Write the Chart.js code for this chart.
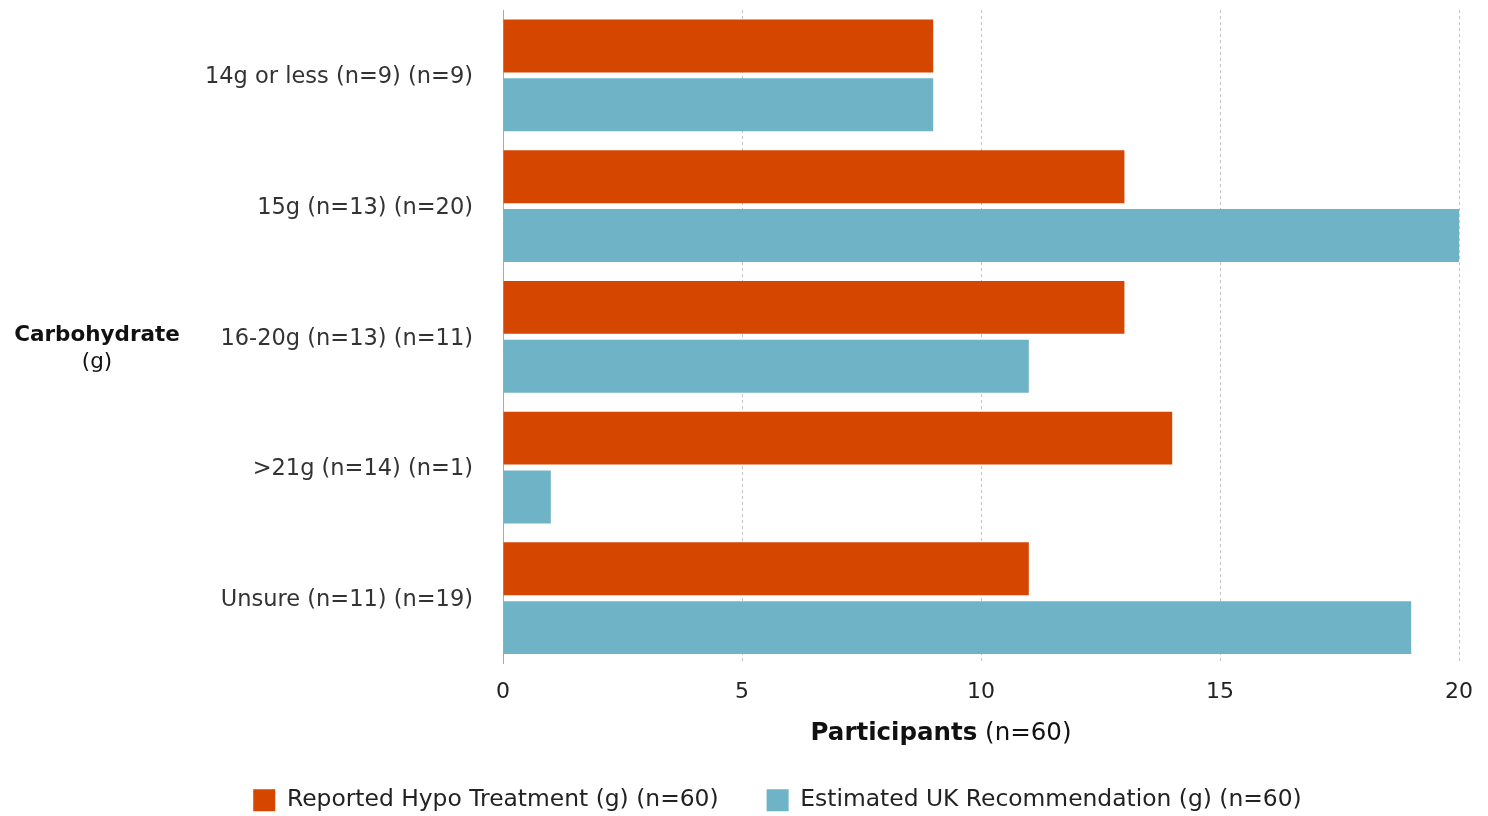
<!DOCTYPE html>
<html>
<head>
<meta charset="utf-8">
<script src="https://cdn.jsdelivr.net/npm/chart.js@4/dist/chart.umd.min.js"></script>
<style>
  html, body { margin: 0; padding: 0; background: #fff; }
  #wrap { width: 1488px; height: 816px; position: relative; }
</style>
</head>
<body>
<div id="wrap"><canvas id="c"></canvas></div>
<script>
// Carbohydrate amount categories
const categories = [
  '14g or less (n=9) (n=9)',
  '15g (n=13) (n=20)',
  '16-20g (n=13) (n=11)',
  '>21g (n=14) (n=1)',
  'Unsure (n=11) (n=19)'
];
// Participant counts per category
const reportedTreatment = [9, 13, 13, 14, 11];
const ukRecommendation = [9, 20, 11, 1, 19];
const xTicks = [0, 5, 10, 15, 20];

const FONT = '"DejaVu Sans", sans-serif';

// Axis titles with mixed bold / regular runs
const titlesPlugin = {
  id: 'titles',
  afterLayout(chart) {
    // nudge the legend row to the right of the canvas centre
    const lg = chart.legend;
    if (lg) { lg.left += 48; lg.right += 48; }
  },
  afterDraw(chart) {
    const ctx = chart.ctx;
    ctx.save();
    ctx.fillStyle = '#111';
    ctx.textBaseline = 'middle';
    // y title
    ctx.textAlign = 'center';
    ctx.font = 'bold 21.5px ' + FONT;
    ctx.fillText('Carbohydrate', 97, 335);
    ctx.font = '21.5px ' + FONT;
    ctx.fillText('(g)', 97, 362);
    // x title
    ctx.textAlign = 'left';
    ctx.font = 'bold 24.5px ' + FONT;
    const a = 'Participants';
    const wa = ctx.measureText(a).width;
    ctx.font = '24.5px ' + FONT;
    const b = ' (n=60)';
    const wb = ctx.measureText(b).width;
    const x0 = 941 - (wa + wb) / 2;
    ctx.font = 'bold 24.5px ' + FONT;
    ctx.fillText(a, x0, 734);
    ctx.font = '24.5px ' + FONT;
    ctx.fillText(b, x0 + wa, 734);
    ctx.restore();
  }
};

new Chart(document.getElementById('c'), {
  type: 'bar',
  data: {
    labels: categories,
    datasets: [
      {
        label: 'Reported Hypo Treatment (g) (n=60)',
        data: reportedTreatment,
        backgroundColor: '#D54600',
        categoryPercentage: 0.9,
        barPercentage: 0.9
      },
      {
        label: 'Estimated UK Recommendation (g) (n=60)',
        data: ukRecommendation,
        backgroundColor: '#6FB3C6',
        categoryPercentage: 0.9,
        barPercentage: 0.9
      }
    ]
  },
  options: {
    indexAxis: 'y',
    responsive: true,
    maintainAspectRatio: false,
    animation: false,
    layout: { padding: { top: 10, right: 29, left: 0, bottom: -6 } },
    scales: {
      x: {
        min: 0,
        max: 20,
        afterBuildTicks: s => { s.ticks = xTicks.map(v => ({ value: v })); },
        afterFit: s => { s.height = 77; },
        grid: {
          color: '#c4c4c4',
          lineWidth: 1,
          drawTicks: false
        },
        border: { display: false, dash: [3, 3] },
        ticks: {
          color: '#222',
          font: { family: FONT, size: 22 },
          padding: 15
        }
      },
      y: {
        afterFit: s => { s.width = 503; s.paddingTop = 0; s.paddingBottom = 0; },
        grid: { display: false },
        border: { display: true, color: '#aaa', width: 1 },
        ticks: {
          color: '#333',
          font: { family: FONT, size: 22.5 },
          padding: 22,
          labelOffset: 2
        }
      }
    },
    plugins: {
      legend: {
        position: 'bottom',
        labels: {
          boxWidth: 22,
          boxHeight: 22,
          padding: 48,
          color: '#222',
          font: { family: FONT, size: 23.4 }
        }
      },
      tooltip: { enabled: false }
    }
  },
  plugins: [titlesPlugin]
});
</script>
</body>
</html>
